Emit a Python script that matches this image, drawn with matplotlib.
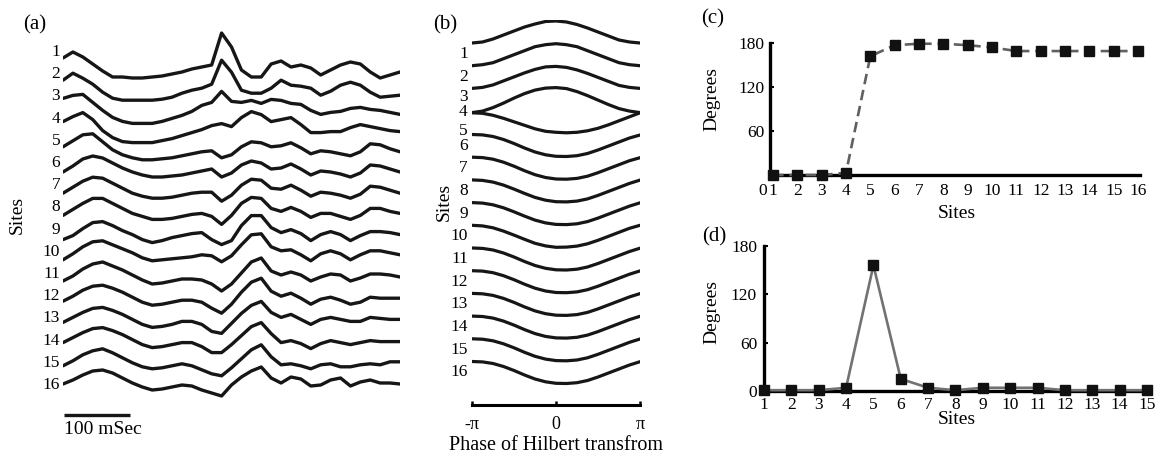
import numpy as np
import matplotlib.pyplot as plt

plt.rcParams['font.family'] = ['Liberation Serif', 'DejaVu Serif']

# ---- panel (a): recorded traces, value per 15 ms step (arbitrary units, up = positive)
t_ms = list(range(0, 511, 15))

trace_01 = [-8, -2, -7, -14, -21, -27, -27, -28, -28, -27, -26, -24, -22, -19, -17, -15, 17, 3, -20, -27, -27, -14, -11, -17, -15, -18, -25, -20, -15, -12, -14, -22, -28, -25, -22]
trace_02 = [-8, -1, -6, -12, -20, -26, -28, -28, -28, -28, -27, -25, -21, -18, -16, -12, 12, 0, -18, -21, -21, -16, -8, -13, -14, -16, -23, -19, -13, -10, -13, -20, -25, -24, -23]
trace_03 = [-4, -1, 0, -8, -16, -23, -27, -29, -29, -29, -27, -24, -21, -17, -11, -8, 3, -7, -8, -6, -9, -5, -6, -9, -10, -16, -20, -18, -17, -14, -13, -15, -16, -18, -20]
trace_04 = [-5, 0, 4, -3, -14, -21, -25, -26, -26, -26, -24, -22, -19, -16, -13, -9, -7, -10, -1, 5, 2, -5, -3, -1, -8, -16, -16, -15, -15, -11, -8, -10, -12, -14, -15]
trace_05 = [-8, -2, 4, 5, -3, -11, -16, -19, -21, -21, -20, -19, -17, -15, -13, -12, -19, -16, -8, -3, -4, -8, -7, -4, -9, -15, -12, -13, -15, -17, -13, -5, -6, -10, -13]
trace_06 = [-11, -5, 2, 5, 3, -2, -7, -11, -14, -16, -16, -15, -14, -12, -10, -8, -16, -12, -4, 0, -2, -8, -7, -3, -8, -14, -10, -11, -13, -16, -12, -4, -5, -8, -11]
trace_07 = [-10, -4, 2, 6, 5, 0, -5, -10, -13, -15, -15, -14, -12, -10, -9, -9, -18, -12, -2, 4, 3, -5, -6, -2, -7, -13, -9, -10, -12, -15, -11, -3, -4, -7, -10]
trace_08 = [-10, -4, 2, 7, 7, 2, -3, -8, -11, -14, -14, -13, -11, -9, -8, -11, -19, -10, 2, 8, 7, -3, -6, -2, -6, -12, -8, -8, -11, -14, -10, -3, -3, -6, -8]
trace_09 = [-12, -8, -1, 5, 6, 2, -3, -7, -12, -15, -13, -10, -8, -6, -5, -12, -17, -13, 2, 12, 12, 0, -5, -2, -6, -13, -7, -4, -7, -13, -8, -4, -4, -5, -7]
trace_10 = [-10, -4, 3, 8, 9, 5, 1, -3, -8, -11, -10, -9, -8, -7, -5, -6, -12, -6, 5, 15, 16, 3, -1, 0, -5, -11, -4, -1, -4, -10, -5, -1, -1, -3, -5]
trace_11 = [-9, -4, 3, 8, 10, 6, 2, -3, -8, -12, -11, -9, -7, -7, -8, -12, -19, -12, -1, 10, 14, 1, -3, 0, -3, -9, -5, -2, -3, -9, -6, -2, -2, -3, -5]
trace_12 = [-7, -2, 4, 8, 9, 6, 2, -3, -8, -11, -10, -8, -6, -6, -8, -14, -19, -10, 2, 12, 16, 3, -2, 1, -4, -10, -5, -3, -6, -10, -8, -3, -4, -4, -4]
trace_13 = [-6, -1, 4, 8, 9, 6, 2, -3, -8, -11, -10, -8, -5, -5, -8, -15, -17, -7, 3, 11, 15, 4, -1, 2, -3, -8, -3, -1, -3, -5, -5, -1, -2, -3, -3]
trace_14 = [-4, 1, 6, 10, 11, 8, 4, -1, -6, -9, -8, -6, -4, -4, -8, -14, -14, -6, 3, 12, 16, 5, -4, -2, -5, -10, -5, -2, -4, -6, -4, -2, -3, -3, -3]
trace_15 = [-5, 0, 6, 10, 12, 8, 3, -2, -6, -8, -7, -5, -3, -5, -9, -13, -15, -7, 2, 11, 16, 4, -4, -3, -5, -8, -4, -3, -6, -6, -4, -3, -4, -1, -1]
trace_16 = [-1, 3, 8, 12, 13, 10, 5, 0, -4, -7, -6, -4, -2, -3, -7, -10, -13, -2, 6, 12, 16, 5, 0, 6, 4, -3, -2, 3, 5, -3, 1, 3, 0, 0, -1]

traces_a = [trace_01, trace_02, trace_03, trace_04, trace_05, trace_06, trace_07, trace_08,
            trace_09, trace_10, trace_11, trace_12, trace_13, trace_14, trace_15, trace_16]
site_labels = [str(i) for i in range(1, 17)]

# ---- panel (b): waveform vs Hilbert phase, 17 phase steps from -pi to pi
phase = np.linspace(-np.pi, np.pi, 17)
phase_tick_labels = ['-π', '0', 'π']

wave_01 = [-11, -10, -7, -3, 1, 5, 8, 10.5, 11, 10, 7.5, 4, 0, -4, -8, -10, -11]
wave_02 = [-11, -10, -8, -4, 0, 4, 8, 10, 11, 10, 8, 4, 0, -4, -8, -10, -11]
wave_03 = [-11, -10, -7.5, -3.5, 0.5, 4.5, 8, 10.5, 11, 10, 7.5, 4, 0, -4, -8, -10, -11]
wave_04 = [-12.5, -11, -7.5, -3, 2, 6.5, 10, 12, 12.5, 11.5, 8.5, 4.5, 0, -4.5, -8.5, -11, -12.5]
wave_05 = [10, 9.5, 7.5, 4.5, 1, -2.5, -6, -8.5, -9.5, -10, -9.5, -8, -5.5, -2, 2, 6, 10]
wave_06 = [11, 10.6, 9, 6, 2, -2.5, -6.5, -9.3, -10.8, -11, -10.2, -8, -4.5, -0.5, 3.5, 7.5, 10.5]
wave_07 = [11, 10.6, 9, 6, 2, -2.5, -6.5, -9.3, -10.8, -11, -10.2, -8, -4.5, -0.5, 3.5, 7.5, 10.5]
wave_08 = [11, 10.5, 8.8, 5.8, 1.8, -2.5, -6.5, -9.3, -10.8, -11, -10.2, -8, -4.5, -0.5, 3.5, 7.5, 10.8]
wave_09 = [11, 10.5, 8.8, 5.8, 1.8, -2.5, -6.5, -9.3, -10.8, -11, -10.2, -8, -4.5, -0.5, 3.5, 7.5, 10.8]
wave_10 = [11, 10.4, 8.5, 5.2, 1.2, -3, -7, -9.6, -11, -10.8, -9.8, -7.5, -4, 0, 4, 8, 11]
wave_11 = [11, 10.6, 9, 6, 2, -2.5, -6.5, -9.3, -10.8, -11, -10.2, -8, -4.5, -0.5, 3.5, 7.5, 10.8]
wave_12 = [11, 10.6, 9, 6, 2, -2.5, -6.5, -9.3, -10.8, -11, -10.2, -8, -4.5, -0.5, 3.5, 7.5, 10.8]
wave_13 = [11, 10.6, 9, 6, 2, -2.5, -6.5, -9.3, -10.8, -11, -10.2, -8, -4.5, -0.5, 3.5, 7.5, 10.8]
wave_14 = [11, 10.6, 9, 6, 2, -2.5, -6.5, -9.3, -10.8, -11, -10.2, -8, -4.5, -0.5, 3.5, 7.5, 10.8]
wave_15 = [11, 10.6, 9, 6, 2, -2.5, -6.5, -9.3, -10.8, -11, -10.2, -8, -4.5, -0.5, 3.5, 7.5, 10.8]
wave_16 = [11, 10.6, 9, 6, 2, -2.5, -6.5, -9.3, -10.8, -11, -10.2, -8, -4.5, -0.5, 3.5, 7.5, 10.8]

waves_b = [wave_01, wave_02, wave_03, wave_04, wave_05, wave_06, wave_07, wave_08,
           wave_09, wave_10, wave_11, wave_12, wave_13, wave_14, wave_15, wave_16]

# ---- panel (c) and (d): phase difference in degrees
c_sites = list(range(1, 17))
c_degrees = [0, 0, 0, 3, 162, 177, 179, 179, 177, 174, 169, 169, 169, 169, 169, 169]
d_sites = list(range(1, 16))
d_degrees = [1, 1, 1, 4, 156, 15, 4, 1, 4, 4, 4, 1, 1, 1, 1]

W, H = 1160, 457
fig = plt.figure(figsize=(W / 100, H / 100), dpi=100)


def rect(x0, y0, x1, y1):
    return [x0 / W, 1 - y1 / H, (x1 - x0) / W, (y1 - y0) / H]


def ftext(x, y, s, **kw):
    fig.text(x / W, 1 - y / H, s, **kw)


ink = '#161616'
tick_fs = 12.5
lab_fs = 14
pan_fs = 15

# (a)
ax_a = fig.add_axes(rect(63, 20, 400, 445))
ax_a.set_xlim(0, 510)
ax_a.set_ylim(-445, -20)
base_a = [-(50 + 22.2 * i) for i in range(16)]
for b, tr in zip(base_a, traces_a):
    ax_a.plot(t_ms, b + np.array(tr), color=ink, lw=2.4,
              solid_joinstyle='round', solid_capstyle='round')
ax_a.set_yticks(base_a, site_labels)
ax_a.set_xticks([])
ax_a.tick_params(axis='y', length=0, pad=2, labelsize=tick_fs)
for s in ax_a.spines.values():
    s.set_visible(False)
ax_a.plot([2, 102], [-415, -415], color=ink, lw=2.4, solid_capstyle='butt')
ax_a.text(2, -430, '100 mSec', fontsize=14, ha='left', va='center')
ftext(35, 25, '(a)', fontsize=pan_fs, ha='center', va='center')
ftext(17, 215, 'Sites', fontsize=lab_fs, rotation=90, ha='center', va='center')

# (b)
ax_b = fig.add_axes(rect(472, 20, 640, 445))
ax_b.set_xlim(-np.pi, np.pi)
ax_b.set_ylim(-445, -20)
mid_b = [-(32 + 22.7 * i) for i in range(16)]
lab_b = []
for i, (m, wv) in enumerate(zip(mid_b, waves_b)):
    ax_b.plot(phase, m + np.array(wv), color=ink, lw=2.3, solid_capstyle='round')
    nudge = {2: -7, 3: 3, 4: -16}.get(i, -9)
    lab_b.append(m + wv[0] + nudge)
ax_b.set_yticks(lab_b, site_labels)
ax_b.tick_params(axis='y', length=0, pad=3, labelsize=tick_fs)
for k in ['top', 'right', 'left']:
    ax_b.spines[k].set_visible(False)
ax_b.spines['bottom'].set_position(('data', -405))
ax_b.spines['bottom'].set_linewidth(2.2)
ax_b.set_xticks([-np.pi, 0, np.pi], phase_tick_labels)
ax_b.tick_params(axis='x', direction='in', length=3, width=1.8, pad=8, labelsize=13)
ftext(445, 25, '(b)', fontsize=pan_fs, ha='center', va='center')
ftext(444, 202, 'Sites', fontsize=lab_fs, rotation=90, ha='center', va='center')
ftext(556, 445, 'Phase of Hilbert transfrom', fontsize=14.5, ha='center', va='center')

# (c)
ax_c = fig.add_axes(rect(770, 43, 1140, 175))
ax_c.set_xlim(0.877, 16.08)
ax_c.set_ylim(0, 180)
ax_c.plot(c_sites, c_degrees, color='#606060', lw=1.9, ls=(0, (4, 2.2)),
          marker='s', ms=6.5, mfc='#111111', mec='#111111', clip_on=False, zorder=3)
ax_c.set_yticks([60, 120, 180])
ax_c.set_xticks(c_sites)
ax_c.tick_params(axis='y', direction='in', length=3, width=1.5, pad=4, labelsize=tick_fs)
ax_c.tick_params(axis='x', length=0, pad=6, labelsize=tick_fs)
for k in ['top', 'right']:
    ax_c.spines[k].set_visible(False)
for k in ['left', 'bottom']:
    ax_c.spines[k].set_linewidth(2.4)
ftext(763, 191, '0', fontsize=tick_fs, ha='center', va='center')
ftext(713, 19, '(c)', fontsize=pan_fs, ha='center', va='center')
ftext(712, 99, 'Degrees', fontsize=lab_fs, rotation=90, ha='center', va='center')
ftext(957, 213, 'Sites', fontsize=lab_fs, ha='center', va='center')

# (d)
ax_d = fig.add_axes(rect(764, 246, 1150, 391))
ax_d.set_xlim(1, 15.11)
ax_d.set_ylim(0, 180)
ax_d.plot(d_sites, d_degrees, color='#727272', lw=1.9,
          marker='s', ms=6.5, mfc='#111111', mec='#111111', clip_on=False, zorder=3)
ax_d.set_yticks([0, 60, 120, 180])
ax_d.set_xticks(d_sites)
ax_d.tick_params(axis='y', direction='in', length=3, width=1.5, pad=5, labelsize=tick_fs)
ax_d.tick_params(axis='x', length=0, pad=4, labelsize=tick_fs)
for k in ['top', 'right']:
    ax_d.spines[k].set_visible(False)
for k in ['left', 'bottom']:
    ax_d.spines[k].set_linewidth(2.4)
ftext(714, 237, '(d)', fontsize=pan_fs, ha='center', va='center')
ftext(712, 312, 'Degrees', fontsize=lab_fs, rotation=90, ha='center', va='center')
ftext(957, 420, 'Sites', fontsize=lab_fs, ha='center', va='center')

fig.savefig('out.png', dpi=100)
